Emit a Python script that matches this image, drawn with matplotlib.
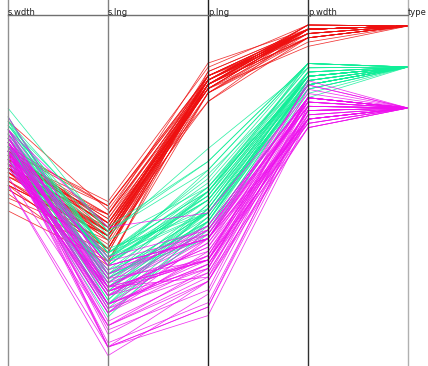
import matplotlib
matplotlib.use("Agg")
import matplotlib.pyplot as plt
import numpy as np

axis_labels = ["s.wdth", "s.lng", "p.lng", "p.wdth", "type"]
species = ["setosa", "versicolor", "virginica"]
species_colors = ["#ee1010", "#10ee98", "#ee10ee"]

sepal_length = [
    5.1, 4.9, 4.7, 4.6, 5.0, 5.4, 4.6, 5.0, 4.4, 4.9, 5.4, 4.8, 4.8, 4.3, 5.8, 5.7, 5.4, 5.1, 5.7, 5.1,
    5.4, 5.1, 4.6, 5.1, 4.8, 5.0, 5.0, 5.2, 5.2, 4.7, 4.8, 5.4, 5.2, 5.5, 4.9, 5.0, 5.5, 4.9, 4.4, 5.1,
    5.0, 4.5, 4.4, 5.0, 5.1, 4.8, 5.1, 4.6, 5.3, 5.0,
    7.0, 6.4, 6.9, 5.5, 6.5, 5.7, 6.3, 4.9, 6.6, 5.2, 5.0, 5.9, 6.0, 6.1, 5.6, 6.7, 5.6, 5.8, 6.2, 5.6,
    5.9, 6.1, 6.3, 6.1, 6.4, 6.6, 6.8, 6.7, 6.0, 5.7, 5.5, 5.5, 5.8, 6.0, 5.4, 6.0, 6.7, 6.3, 5.6, 5.5,
    5.5, 6.1, 5.8, 5.0, 5.6, 5.7, 5.7, 6.2, 5.1, 5.7,
    6.3, 5.8, 7.1, 6.3, 6.5, 7.6, 4.9, 7.3, 6.7, 7.2, 6.5, 6.4, 6.8, 5.7, 5.8, 6.4, 6.5, 7.7, 7.7, 6.0,
    6.9, 5.6, 7.7, 6.3, 6.7, 7.2, 6.2, 6.1, 6.4, 7.2, 7.4, 7.9, 6.4, 6.3, 6.1, 7.7, 6.3, 6.4, 6.0, 6.9,
    6.7, 6.9, 5.8, 6.8, 6.7, 6.7, 6.3, 6.5, 6.2, 5.9,
]
sepal_width = [
    3.5, 3.0, 3.2, 3.1, 3.6, 3.9, 3.4, 3.4, 2.9, 3.1, 3.7, 3.4, 3.0, 3.0, 4.0, 4.4, 3.9, 3.5, 3.8, 3.8,
    3.4, 3.7, 3.6, 3.3, 3.4, 3.0, 3.4, 3.5, 3.4, 3.2, 3.1, 3.4, 4.1, 4.2, 3.1, 3.2, 3.5, 3.6, 3.0, 3.4,
    3.5, 2.3, 3.2, 3.5, 3.8, 3.0, 3.8, 3.2, 3.7, 3.3,
    3.2, 3.2, 3.1, 2.3, 2.8, 2.8, 3.3, 2.4, 2.9, 2.7, 2.0, 3.0, 2.2, 2.9, 2.9, 3.1, 3.0, 2.7, 2.2, 2.5,
    3.2, 2.8, 2.5, 2.8, 2.9, 3.0, 2.8, 3.0, 2.9, 2.6, 2.4, 2.4, 2.7, 2.7, 3.0, 3.4, 3.1, 2.3, 3.0, 2.5,
    2.6, 3.0, 2.6, 2.3, 2.7, 3.0, 2.9, 2.9, 2.5, 2.8,
    3.3, 2.7, 3.0, 2.9, 3.0, 3.0, 2.5, 2.9, 2.5, 3.6, 3.2, 2.7, 3.0, 2.5, 2.8, 3.2, 3.0, 3.8, 2.6, 2.2,
    3.2, 2.8, 2.8, 2.7, 3.3, 3.2, 2.8, 3.0, 2.8, 3.0, 2.8, 3.8, 2.8, 2.8, 2.6, 3.0, 3.4, 3.1, 3.0, 3.1,
    3.1, 3.1, 2.7, 3.2, 3.3, 3.0, 2.5, 3.0, 3.4, 3.0,
]
petal_length = [
    1.4, 1.4, 1.3, 1.5, 1.4, 1.7, 1.4, 1.5, 1.4, 1.5, 1.5, 1.6, 1.4, 1.1, 1.2, 1.5, 1.3, 1.4, 1.7, 1.5,
    1.7, 1.5, 1.0, 1.7, 1.9, 1.6, 1.6, 1.5, 1.4, 1.6, 1.6, 1.5, 1.5, 1.4, 1.5, 1.2, 1.3, 1.4, 1.3, 1.5,
    1.3, 1.3, 1.3, 1.6, 1.9, 1.4, 1.6, 1.4, 1.5, 1.4,
    4.7, 4.5, 4.9, 4.0, 4.6, 4.5, 4.7, 3.3, 4.6, 3.9, 3.5, 4.2, 4.0, 4.7, 3.6, 4.4, 4.5, 4.1, 4.5, 3.9,
    4.8, 4.0, 4.9, 4.7, 4.3, 4.4, 4.8, 5.0, 4.5, 3.5, 3.8, 3.7, 3.9, 5.1, 4.5, 4.5, 4.7, 4.4, 4.1, 4.0,
    4.4, 4.6, 4.0, 3.3, 4.2, 4.2, 4.2, 4.3, 3.0, 4.1,
    6.0, 5.1, 5.9, 5.6, 5.8, 6.6, 4.5, 6.3, 5.8, 6.1, 5.1, 5.3, 5.5, 5.0, 5.1, 5.3, 5.5, 6.7, 6.9, 5.0,
    5.7, 4.9, 6.7, 4.9, 5.7, 6.0, 4.8, 4.9, 5.6, 5.8, 6.1, 6.4, 5.6, 5.1, 5.6, 6.1, 5.6, 5.5, 4.8, 5.4,
    5.6, 5.1, 5.1, 5.9, 5.7, 5.2, 5.0, 5.2, 5.4, 5.1,
]
petal_width = [
    0.2, 0.2, 0.2, 0.2, 0.2, 0.4, 0.3, 0.2, 0.2, 0.1, 0.2, 0.2, 0.1, 0.1, 0.2, 0.4, 0.4, 0.3, 0.3, 0.3,
    0.2, 0.4, 0.2, 0.5, 0.2, 0.2, 0.4, 0.2, 0.2, 0.2, 0.2, 0.4, 0.1, 0.2, 0.2, 0.2, 0.2, 0.1, 0.2, 0.2,
    0.3, 0.3, 0.2, 0.6, 0.4, 0.3, 0.2, 0.2, 0.2, 0.2,
    1.4, 1.5, 1.5, 1.3, 1.5, 1.3, 1.6, 1.0, 1.3, 1.4, 1.0, 1.5, 1.0, 1.4, 1.3, 1.4, 1.5, 1.0, 1.5, 1.1,
    1.8, 1.3, 1.5, 1.2, 1.3, 1.4, 1.4, 1.7, 1.5, 1.0, 1.1, 1.0, 1.2, 1.6, 1.5, 1.6, 1.5, 1.3, 1.3, 1.3,
    1.2, 1.4, 1.2, 1.0, 1.3, 1.2, 1.3, 1.3, 1.1, 1.3,
    2.5, 1.9, 2.1, 1.8, 2.2, 2.1, 1.7, 1.8, 1.8, 2.5, 2.0, 1.9, 2.1, 2.0, 2.4, 2.3, 1.8, 2.2, 2.3, 1.5,
    2.3, 2.0, 2.0, 1.8, 2.1, 1.8, 1.8, 1.8, 2.1, 1.6, 1.9, 2.0, 2.2, 1.5, 1.4, 2.3, 2.4, 1.8, 1.8, 2.1,
    2.4, 2.3, 1.9, 2.3, 2.5, 2.3, 1.9, 2.0, 2.3, 1.8,
]
type_code = [1] * 50 + [2] * 50 + [3] * 50

W, H = 428, 366
# per-axis vertical placement (pixel offset of zero, pixels per unit); axis scales point downward
unit_px = 42.8
axis_offsets = [22.5, 17.5, 20.3, 20.7]
type_px = {1: 26.0, 2: 67.0, 3: 108.0}

measures = [np.array(sepal_width), np.array(sepal_length),
            np.array(petal_length), np.array(petal_width)]
cols = [off + unit_px * m for off, m in zip(axis_offsets, measures)]
cols.append(np.array([type_px[c] for c in type_code]))
cols = np.column_stack(cols)

fig = plt.figure(figsize=(W / 100, H / 100), dpi=100)
ax = fig.add_axes([0, 0, 1, 1])
px0, pxstep = 8, 100
ax.set_xlim(-px0 / pxstep, (W - px0) / pxstep)
ax.set_ylim(H, 0)
ax.axis("off")

xs = np.arange(len(axis_labels))
codes = np.array(type_code)
for k in range(3):
    sel = cols[codes == k + 1]
    for row in sel:
        ax.plot(xs, row, color=species_colors[k], lw=0.55, alpha=0.85,
                solid_capstyle="butt", zorder=2)

axis_colors = ["#909090", "#808080", "#202020", "#303030", "#b0b0b0"]
for i, c in enumerate(axis_colors):
    ax.axvline(i, color=c, lw=1.0, zorder=3)
top = 15
ax.plot([0, 4], [top, top], color="#707070", lw=1.0, zorder=3)
for i, lab in enumerate(axis_labels):
    ax.text(i, top, lab, fontsize=6, ha="left", va="baseline", color="#202020", zorder=4)

fig.savefig("out.png", dpi=100)
